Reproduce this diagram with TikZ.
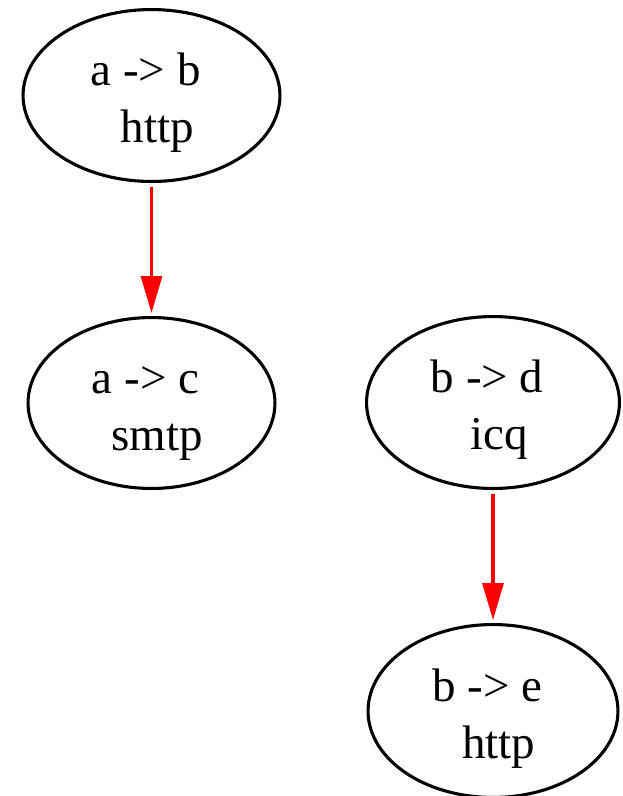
\documentclass[tikz,border=0pt]{standalone}
\usepackage{fontspec}
\setmainfont{Liberation Serif}
\usetikzlibrary{arrows.meta,shapes.geometric}
\begin{document}
\begin{tikzpicture}[x=1pt,y=-1pt,
  state/.style={draw=black, line width=3.1pt, ellipse, inner sep=0pt},
  txt/.style={inner sep=0pt, anchor=base, font=\fontsize{47}{57}\selectfont},
  edge/.style={draw=red, line width=3.1pt, -{Triangle[length=37pt,width=21pt]}, shorten <=4pt, shorten >=3pt}]
\useasboundingbox (0,0) rectangle (622,796);
\node[state, minimum width=256.9pt, minimum height=171.9pt] (n1) at (151.5,95.5) {};
\node[state, minimum width=246.9pt, minimum height=170.9pt] (n2) at (151.5,403) {};
\node[state, minimum width=252.9pt, minimum height=171.9pt] (n3) at (493,402.5) {};
\node[state, minimum width=249.9pt, minimum height=172.9pt] (n4) at (493,711) {};
\foreach \n/\a/\b in {n1/a -> b/http, n2/a -> c/smtp, n3/b -> d/icq, n4/b -> e/http}{
  \node[txt] (\n a) at ([yshift=10pt]\n.center) {\a\kern.25em};
  \node[txt] (\n b) at ([yshift=-47pt]\n.center) {\kern.25em\b};
}
\draw[edge] (n1) -- (n2);
\draw[edge] (n3) -- (n4);
\end{tikzpicture}
\end{document}
